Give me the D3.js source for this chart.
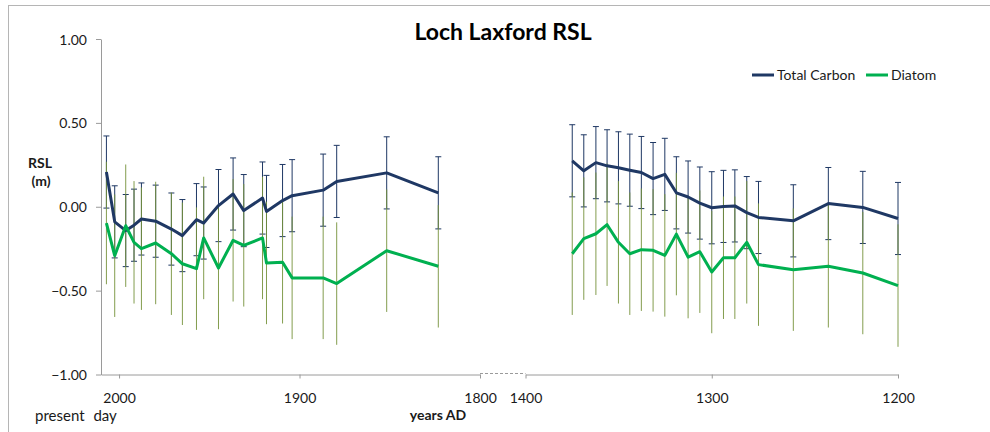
<!DOCTYPE html>
<html>
<head>
<meta charset="utf-8">
<script src="https://cdn.jsdelivr.net/npm/d3@7"></script>
<style>
  body { margin: 0; background: #fff; }
  svg text { font-family: Lato, "Liberation Sans", sans-serif; fill: #1a1a1a; }
  .axis path, .axis line { stroke: #9a9a9a; }
  .axis text { font-size: 14px; fill: #1a1a1a; }
</style>
</head>
<body>
<div class="chart"></div>
<script>
/*
----------------------------------------------------------
                   data
----------------------------------------------------------
*/
// recent segment (present day -> 1800)
var recentYears   = [2007, 2002.4, 1996.3, 1991.7, 1987.6, 1979.7, 1971.0, 1964.9, 1957.1, 1953.1, 1944.9,
                     1936.8, 1930.9, 1920.5, 1918.3, 1909.4, 1904.1, 1886.9, 1879.4, 1851.7, 1823.1];
var recentCarbon  = [0.207, -0.09, -0.142, -0.11, -0.073, -0.086, -0.133, -0.172, -0.077, -0.097, 0.007,
                     0.076, -0.023, 0.052, -0.028, 0.037, 0.066, 0.099, 0.151, 0.202, 0.083];
var recentDiatom  = [-0.097, -0.292, -0.113, -0.212, -0.25, -0.216, -0.28, -0.34, -0.369, -0.186, -0.365,
                     -0.2, -0.23, -0.186, -0.335, -0.331, -0.424, -0.424, -0.458, -0.262, -0.355];

// older segment (1400 -> 1200)
var olderYears    = [1374.9, 1368.7, 1362.2, 1356.2, 1350.1, 1344.0, 1337.8, 1331.5, 1325.2, 1319.0, 1312.7,
                     1306.4, 1300.0, 1293.7, 1287.6, 1281.2, 1274.9, 1256.2, 1237.4, 1218.9, 1200.0];
var olderCarbon   = [0.274, 0.214, 0.263, 0.244, 0.232, 0.218, 0.204, 0.168, 0.193, 0.083, 0.058,
                     0.022, -0.006, 0.002, 0.005, -0.035, -0.064, -0.084, 0.019, -0.004, -0.07];
var olderDiatom   = [-0.28, -0.19, -0.161, -0.107, -0.212, -0.28, -0.256, -0.26, -0.29, -0.163, -0.3,
                     -0.268, -0.389, -0.304, -0.304, -0.212, -0.345, -0.375, -0.355, -0.395, -0.47];

var carbonError = 0.215;
var diatomError = 0.365;

var yTicks       = [-1, -0.5, 0, 0.5, 1];
var recentTicks  = [2000, 1900, 1800];
var olderTicks   = [1400, 1300, 1200];
var seriesNames  = ["Total Carbon", "Diatom"];

/*
----------------------------------------------------------
                   the chart
----------------------------------------------------------
*/
var width = 990;
var height = 432;
var navy = "#1f3864";
var green = "#00b050";
var olive = "#77933c";

var svg = d3.select(".chart")
            .append("svg")
                .attr("width", width)
                .attr("height", height);

// outer frame
svg.append("rect")
    .attr("x", 8.5).attr("y", 5.5)
    .attr("width", width + 20).attr("height", height + 20)
    .attr("fill", "none")
    .attr("stroke", "#b5b5b5");

var y = d3.scaleLinear().domain([-1, 1]).range([374.5, 39]);
var xRecent = d3.scaleLinear().domain([2010, 1800]).range([101, 480]);
var xOlder  = d3.scaleLinear().domain([1400, 1200]).range([525.5, 898]);

function rows(years, carbon, diatom) {
    return years.map(function(yr, i) {
        return { year: yr, carbon: carbon[i], diatom: diatom[i] };
    });
}

var segments = [
    { x: xRecent, data: rows(recentYears, recentCarbon, recentDiatom) },
    { x: xOlder,  data: rows(olderYears, olderCarbon, olderDiatom) }
];

// axes
svg.append("g")
    .attr("class", "axis")
    .attr("transform", "translate(101,0)")
    .call(d3.axisLeft(y).tickValues(yTicks).tickFormat(d3.format(".2f")).tickSize(5).tickSizeOuter(0).tickPadding(9))
    .call(function(g) { g.selectAll("text").attr("dy", "0.36em"); });

function bottomAxis(scale, ticks) {
    svg.append("g")
        .attr("class", "axis")
        .attr("transform", "translate(0,374.5)")
        .call(d3.axisBottom(scale).tickValues(ticks).tickFormat(d3.format("d")).tickSize(4).tickSizeOuter(0).tickPadding(15));
}
bottomAxis(xRecent, recentTicks);
bottomAxis(xOlder, olderTicks);

// axis break
svg.append("line")
    .attr("x1", xRecent(1800)).attr("x2", xOlder(1400))
    .attr("y1", 373.5).attr("y2", 373.5)
    .attr("stroke", "#9a9a9a")
    .attr("stroke-dasharray", "3,2");

// error bars, lines
var plot = svg.append("g");

segments.forEach(function(seg) {
    var x = seg.x;

    var cBars = plot.append("g").selectAll("g").data(seg.data).enter().append("g")
        .attr("stroke", navy).attr("stroke-width", 1);
    cBars.append("line")
        .attr("x1", function(d) { return x(d.year); })
        .attr("x2", function(d) { return x(d.year); })
        .attr("y1", function(d) { return y(d.carbon + carbonError); })
        .attr("y2", function(d) { return y(d.carbon - carbonError); });
    [carbonError, -carbonError].forEach(function(e) {
        cBars.append("line")
            .attr("x1", function(d) { return x(d.year) - 3; })
            .attr("x2", function(d) { return x(d.year) + 3; })
            .attr("y1", function(d) { return y(d.carbon + e); })
            .attr("y2", function(d) { return y(d.carbon + e); });
    });

    plot.append("g").selectAll("line").data(seg.data).enter().append("line")
        .attr("stroke", olive).attr("stroke-width", 1).attr("opacity", 0.9)
        .attr("x1", function(d) { return x(d.year); })
        .attr("x2", function(d) { return x(d.year); })
        .attr("y1", function(d) { return y(d.diatom + diatomError); })
        .attr("y2", function(d) { return y(d.diatom - diatomError); });

    var carbonLine = d3.line().x(function(d) { return x(d.year); }).y(function(d) { return y(d.carbon); });
    var diatomLine = d3.line().x(function(d) { return x(d.year); }).y(function(d) { return y(d.diatom); });

    plot.append("path").datum(seg.data)
        .attr("d", carbonLine)
        .attr("fill", "none").attr("stroke", navy).attr("stroke-width", 3).attr("stroke-linejoin", "round");
    plot.append("path").datum(seg.data)
        .attr("d", diatomLine)
        .attr("fill", "none").attr("stroke", green).attr("stroke-width", 3).attr("stroke-linejoin", "round");
});

// title and labels
svg.append("text")
    .attr("x", 503).attr("y", 39.5)
    .attr("text-anchor", "middle")
    .style("font-size", "23px").style("font-weight", "bold").style("fill", "#000")
    .text("Loch Laxford RSL");

svg.append("text")
    .attr("x", 40).attr("y", 168)
    .attr("text-anchor", "middle")
    .style("font-size", "14px").style("font-weight", "bold")
    .text("RSL");
svg.append("text")
    .attr("x", 41).attr("y", 186)
    .attr("text-anchor", "middle")
    .style("font-size", "14px").style("font-weight", "bold")
    .text("(m)");

svg.append("text")
    .attr("x", 35).attr("y", 421)
    .style("font-size", "15px").style("word-spacing", "5px")
    .text("present day");

svg.append("text")
    .attr("x", 438).attr("y", 420)
    .attr("text-anchor", "middle")
    .style("font-size", "14px").style("font-weight", "bold")
    .text("years AD");

// legend
var legend = svg.append("g");
var legendItems = [
    { name: seriesNames[0], color: navy, x: 752 },
    { name: seriesNames[1], color: green, x: 866 }
];
legendItems.forEach(function(item) {
    legend.append("line")
        .attr("x1", item.x).attr("x2", item.x + 22)
        .attr("y1", 75).attr("y2", 75)
        .attr("stroke", item.color).attr("stroke-width", 3);
    legend.append("text")
        .attr("x", item.x + 25).attr("y", 80)
        .style("font-size", "14px")
        .text(item.name);
});
</script>
</body>
</html>
